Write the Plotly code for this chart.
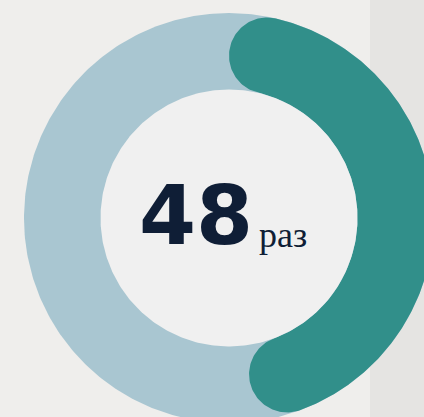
import numpy as np
import plotly.graph_objects as go

# ---- data ----
VALUE = 48          # teal share of the ring
TOTAL = 100
CENTER_NUMBER = "48"
CENTER_UNIT = "раз"

# ---- style ----
BG = "#efeeec"
STRIP = "#e5e4e2"
RING = "#a9c6d1"
ARC = "#318f8a"
HOLE = "#f0f0f0"
TEXT = "#0f1e36"

W, H = 424, 417
CX, CY = 229, 218      # ring centre in pixels
R_OUT, R_IN = 205, 128.5
RM = (R_OUT + R_IN) / 2
CR = (R_OUT - R_IN) / 2


def circle(cx, cy, r, n=400):
    t = np.linspace(0, 2 * np.pi, n)
    return cx + r * np.sin(t), cy + r * np.cos(t)


# arc angles (clockwise from top), round caps kept inside the span
span = 2 * np.pi * VALUE / TOTAL
alpha = np.arcsin(CR / RM)
a1, a2 = alpha, span - alpha

xs, ys = [], []
t = np.linspace(a1, a2, 300)
xs += list(R_OUT * np.sin(t)); ys += list(R_OUT * np.cos(t))
# end cap
ur = np.array([np.sin(a2), np.cos(a2)]); ut = np.array([np.cos(a2), -np.sin(a2)])
c2 = RM * ur
for p in np.linspace(0, np.pi, 80):
    pt = c2 + CR * (np.cos(p) * ur + np.sin(p) * ut)
    xs.append(pt[0]); ys.append(pt[1])
t = np.linspace(a2, a1, 300)
xs += list(R_IN * np.sin(t)); ys += list(R_IN * np.cos(t))
# start cap
ur = np.array([np.sin(a1), np.cos(a1)]); ut = np.array([np.cos(a1), -np.sin(a1)])
c1 = RM * ur
for p in np.linspace(np.pi, 2 * np.pi, 80):
    pt = c1 + CR * (np.cos(p) * ur + np.sin(p) * ut)
    xs.append(pt[0]); ys.append(pt[1])

fig = go.Figure()
bx, by = circle(0, 0, R_OUT)
fig.add_trace(go.Scatter(x=bx, y=by, fill="toself", fillcolor=RING, mode="lines",
                         line=dict(width=0, color=RING), hoverinfo="skip"))
fig.add_trace(go.Scatter(x=xs, y=ys, fill="toself", fillcolor=ARC, mode="lines",
                         line=dict(width=0, color=ARC), hoverinfo="skip"))
hx, hy = circle(0, 0, R_IN)
fig.add_trace(go.Scatter(x=hx, y=hy, fill="toself", fillcolor=HOLE, mode="lines",
                         line=dict(width=0, color=HOLE), hoverinfo="skip"))

fig.add_annotation(x=26, y=3, xref="x", yref="y", text=CENTER_NUMBER, showarrow=False,
                   xanchor="right", yanchor="middle",
                   font=dict(family="DejaVu Sans", size=82, color=TEXT, weight="bold"))
fig.add_annotation(x=28, y=-17, xref="x", yref="y", text=CENTER_UNIT, showarrow=False,
                   xanchor="left", yanchor="middle",
                   font=dict(family="Liberation Serif", size=36, color=TEXT))

fig.add_shape(type="rect", xref="paper", yref="paper", x0=370 / W, x1=1, y0=0, y1=1,
              fillcolor=STRIP, line=dict(width=0), layer="below")

fig.update_layout(
    width=W, height=H, margin=dict(l=0, r=0, t=0, b=0),
    paper_bgcolor=BG, plot_bgcolor="rgba(0,0,0,0)", showlegend=False,
    xaxis=dict(range=[-CX, W - CX], visible=False, fixedrange=True),
    yaxis=dict(range=[CY - H, CY], visible=False, fixedrange=True),
)
fig.write_html("out.html", config={"displayModeBar": False},
               post_script="document.body.style.margin='0';document.body.style.overflow='hidden';document.body.style.background='" + BG + "';")
